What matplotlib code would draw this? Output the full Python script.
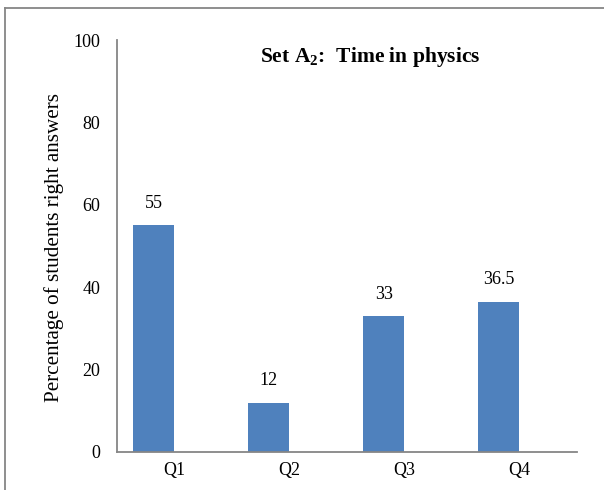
import matplotlib.pyplot as plt
from matplotlib.lines import Line2D

plt.rcParams['font.family'] = ['Liberation Serif', 'DejaVu Serif']
plt.rcParams['mathtext.fontset'] = 'custom'
plt.rcParams['mathtext.rm'] = 'Liberation Serif'
plt.rcParams['mathtext.bf'] = 'Liberation Serif:bold'

# data
questions = ['Q1', 'Q2', 'Q3', 'Q4']
percent_right = [55, 12, 33, 36.5]
value_labels = ['55', '12', '33', '36.5']
yticks = [0, 20, 40, 60, 80, 100]

bar_color = '#4F81BD'
axis_color = '#868686'

fig = plt.figure(figsize=(6.04, 4.9), dpi=100)
ax = fig.add_axes([0.1937, 0.0776, 0.7613, 0.8404])

x = list(range(len(questions)))
bar_w = 0.36
# bars sit just left of the category centre (empty second series in the original)
ax.bar([i - bar_w for i in x], percent_right, width=bar_w, align='edge', color=bar_color)

for i, v in enumerate(percent_right):
    ax.text(i - bar_w / 2, v + 5.3, value_labels[i], ha='center', va='center', fontsize=13)

ax.set_xlim(-0.5, len(questions) - 0.5)
ax.set_ylim(0, 100)
ax.set_yticks(yticks)
ax.set_xticks(x)
ax.set_xticklabels(questions)
ax.tick_params(axis='both', length=0, labelsize=13)
ax.tick_params(axis='y', pad=12)
ax.tick_params(axis='x', pad=7)

for side in ['top', 'right']:
    ax.spines[side].set_visible(False)
for side in ['left', 'bottom']:
    ax.spines[side].set_color(axis_color)
    ax.spines[side].set_linewidth(1.3)

fig.text(54 / 604, 1 - 247 / 490, 'Percentage of students right answers',
         rotation=90, ha='center', va='center', fontsize=15.2)

fig.text(370 / 604, 1 - 57 / 490, r'Set A$_\mathbf{2}$:  Time in physics',
         ha='center', va='center', fontsize=15.5, fontweight='bold')

# outer frame (cut off on the right and bottom)
fig.add_artist(Line2D([5 / 604, 1.0], [1 - 8 / 490, 1 - 8 / 490], color=axis_color, lw=1.3))
fig.add_artist(Line2D([5 / 604, 5 / 604], [1 - 8 / 490, 0.0], color=axis_color, lw=1.3))

fig.savefig('out.png', dpi=100)
